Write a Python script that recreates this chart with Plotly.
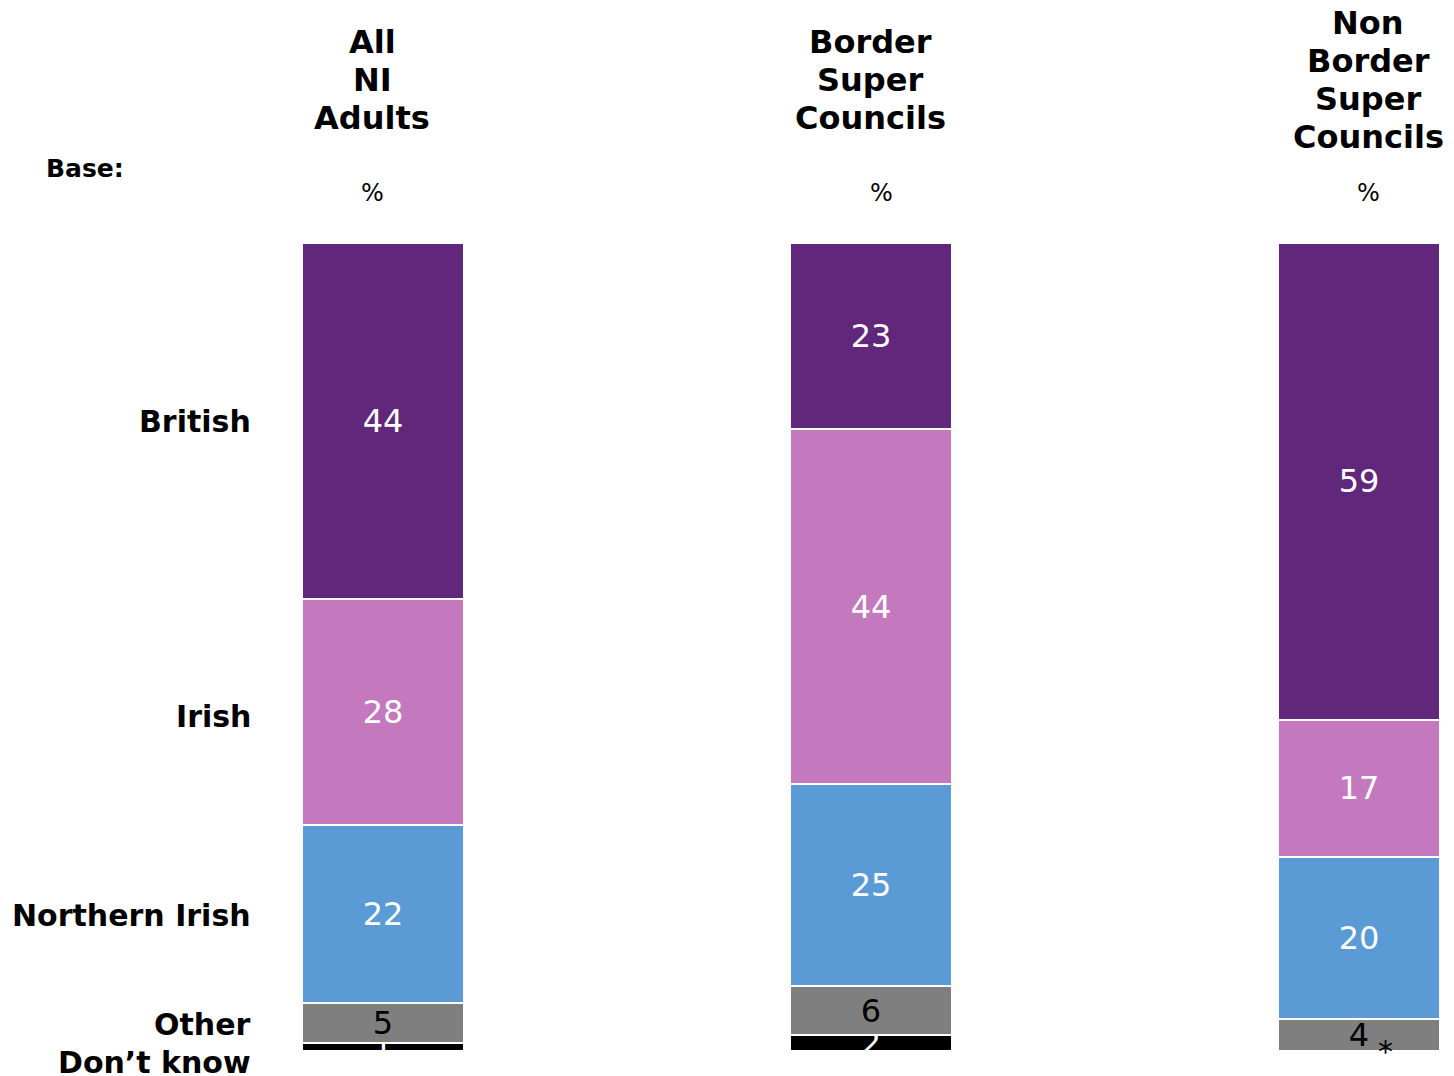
import plotly.graph_objects as go

groups = ["All<br>NI<br>Adults", "Border<br>Super<br>Councils", "Non<br>Border<br>Super<br>Councils"]
categories = ["British", "Irish", "Northern Irish", "Other", "Don\u2019t know"]
british = [44, 23, 59]
irish = [28, 44, 17]
northern_irish = [22, 25, 20]
other = [5, 6, 4]
dont_know = [1, 2, 0]
dont_know_labels = ["1", "2", "*"]

colors = {
    "British": "#61277A",
    "Irish": "#C478BD",
    "Northern Irish": "#5B9BD5",
    "Other": "#7F7F7F",
    "Don\u2019t know": "#000000",
}

W, H = 1454, 1076
OFF = 8  # default page body margin
FONT = "Verdana, DejaVu Sans, sans-serif"

xpos = [0, 1, 2]
px_per_x = 488.0
x0_px = 383.0 - OFF
px_per_y = 8.08
y0_px = 1051.0 - OFF
xrange = [-x0_px / px_per_x, (W - x0_px) / px_per_x]
yrange = [-(H - y0_px) / px_per_y, y0_px / px_per_y]
bar_w = 162 / px_per_x

fig = go.Figure()

series = [
    ("Don\u2019t know", dont_know, [l if l != "*" else "" for l in dont_know_labels], "white"),
    ("Other", other, [str(v) for v in other], "black"),
    ("Northern Irish", northern_irish, [str(v) for v in northern_irish], "white"),
    ("Irish", irish, [str(v) for v in irish], "white"),
    ("British", british, [str(v) for v in british], "white"),
]

for name, vals, texts, tcol in series:
    fig.add_trace(go.Bar(
        x=xpos, y=vals, name=name, width=bar_w,
        marker=dict(color=colors[name], line=dict(color="white", width=2)),
        text=texts, textposition="inside", insidetextanchor="middle",
        constraintext="none", textangle=0,
        textfont=dict(family=FONT, size=32, color=tcol),
        hoverinfo="skip",
    ))

fig.update_layout(
    barmode="stack",
    width=W, height=H,
    margin=dict(l=0, r=0, t=0, b=0),
    paper_bgcolor="white", plot_bgcolor="white",
    showlegend=False,
    xaxis=dict(range=xrange, visible=False, fixedrange=True),
    yaxis=dict(range=yrange, visible=False, fixedrange=True),
    font=dict(family=FONT),
)

def px_x(p):
    return (p - OFF) / W

def px_y(p):
    return 1 - (p - OFF) / H

annotations = []
# column headers, one annotation per line
header_x = [372, 870, 1368]
line_gap = 38.3
for g, hx in zip(groups, header_x):
    lines = g.split("<br>")
    n = len(lines)
    center = 80
    for k, ln in enumerate(lines):
        ly = center + (k - (n - 1) / 2) * line_gap
        annotations.append(dict(
            xref="paper", yref="paper", x=px_x(hx), y=px_y(ly),
            xanchor="center", yanchor="middle", text="<b>" + ln + "</b>",
            showarrow=False, align="center",
            font=dict(family=FONT, size=32, color="black"),
        ))
# percent signs
for hx in [372, 881, 1368]:
    annotations.append(dict(
        xref="paper", yref="paper", x=px_x(hx), y=px_y(193),
        xanchor="center", yanchor="middle", text="%",
        showarrow=False, font=dict(family=FONT, size=24, color="black"),
    ))
annotations.append(dict(
    xref="paper", yref="paper", x=px_x(44), y=px_y(168),
    xanchor="left", yanchor="middle", text="<b>Base:</b>",
    showarrow=False, font=dict(family=FONT, size=25, color="black"),
))
# row labels
row_y = [422, 716, 915, 1024, 1062]
for cat, ry in zip(categories, row_y):
    annotations.append(dict(
        xref="paper", yref="paper", x=px_x(253), y=px_y(ry),
        xanchor="right", yanchor="middle", text="<b>" + cat + "</b>",
        showarrow=False, font=dict(family=FONT, size=30, color="black"),
    ))
# asterisk for < 0.5%
for i, lab in enumerate(dont_know_labels):
    if lab == "*":
        annotations.append(dict(
            xref="x", yref="y", x=xpos[i] + 26 / px_per_x, y=dont_know[i],
            xanchor="center", yanchor="middle", text="*",
            showarrow=False, font=dict(family=FONT, size=30, color="black"),
        ))

fig.update_layout(annotations=annotations)
fig.write_html("out.html")
